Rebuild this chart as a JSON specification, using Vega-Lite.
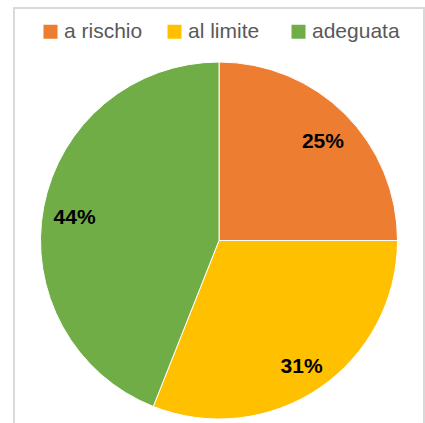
{
  "$schema": "https://vega.github.io/schema/vega-lite/v6.json",
  "width": 410,
  "height": 465,
  "padding": {"left": 13, "top": 7, "right": 0, "bottom": 0},
  "background": "white",
  "config": {"view": {"stroke": null}},
  "encoding": {
    "theta": {"field": "valore", "type": "quantitative", "stack": true},
    "order": {"field": "ordine", "type": "quantitative"}
  },
  "data": {"values": [
    {"categoria": "a rischio", "valore": 25, "ordine": 1, "etichetta": "25%"},
    {"categoria": "al limite", "valore": 31, "ordine": 2, "etichetta": "31%"},
    {"categoria": "adeguata", "valore": 44, "ordine": 3, "etichetta": "44%"}
  ]},
  "layer": [
    {
      "data": {"values": [{"cornice": 1}]},
      "mark": {"type": "rect", "fill": "white", "fillOpacity": 0, "stroke": "#d9d9d9", "strokeWidth": 2},
      "encoding": {"theta": null, "order": null}
    },
    {
      "mark": {"type": "arc", "outerRadius": 178.5, "stroke": "white", "strokeWidth": 1},
      "encoding": {
        "color": {
          "field": "categoria", "type": "nominal",
          "scale": {"domain": ["a rischio", "al limite", "adeguata"], "range": ["#ED7D31", "#FFC000", "#70AD47"]},
          "legend": {
            "title": null, "orient": "none", "direction": "horizontal",
            "legendX": 26, "legendY": 13, "padding": 0, "gridAlign": "all",
            "symbolType": "square", "symbolSize": 196, "symbolStrokeWidth": 0,
            "labelFont": "Liberation Sans", "labelFontSize": 21, "labelColor": "#595959",
            "labelOffset": 3, "columnPadding": 12, "labelLimit": 300
          }
        }
      }
    },
    {
      "mark": {"type": "text", "radius": 147, "dy": 5, "font": "Liberation Sans", "fontWeight": "bold", "fontSize": 21, "color": "black", "align": "center", "baseline": "middle"},
      "encoding": {"text": {"field": "etichetta", "type": "nominal"}}
    }
  ]
}
